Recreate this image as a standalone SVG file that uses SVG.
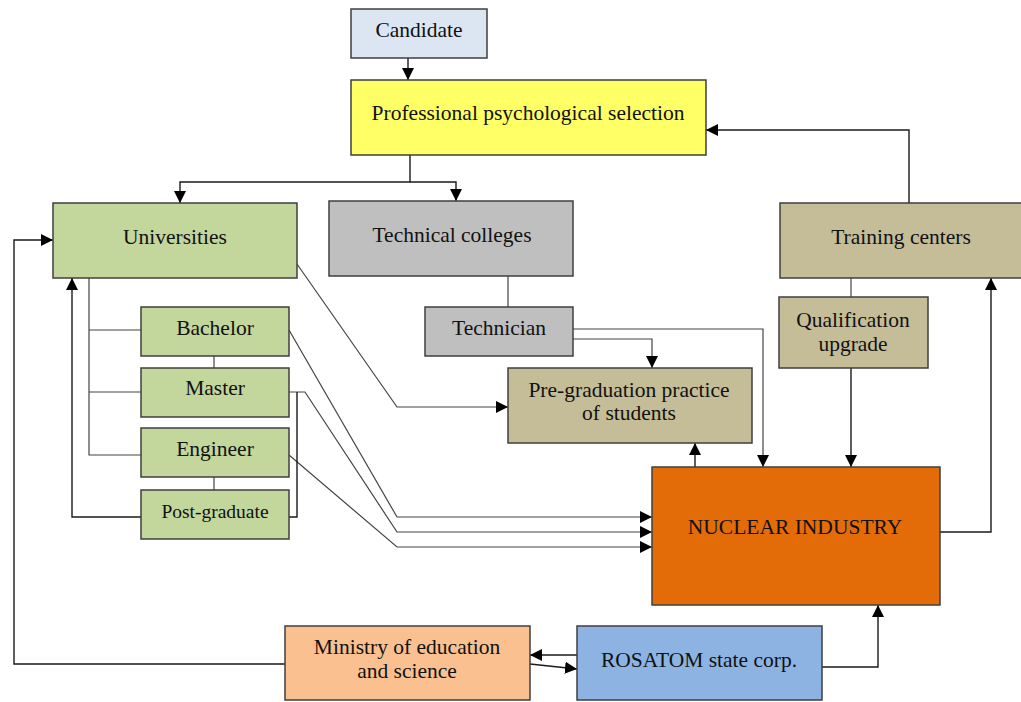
<svg xmlns="http://www.w3.org/2000/svg" width="1021" height="702" viewBox="0 0 1021 702">
<style>
.box{stroke:#3f3f3f;stroke-width:1.5}
.t{font-family:"Liberation Serif","Times New Roman",serif;font-size:21.5px;fill:#111;text-anchor:middle}
.s{font-size:19.5px}
.c{fill:none;stroke:#1a1a1a;stroke-width:1.4}
.g{fill:none;stroke:#444;stroke-width:1.2}
.a{marker-end:url(#ah)}
</style>
<defs>
<marker id="ah" markerUnits="userSpaceOnUse" markerWidth="12" markerHeight="12" viewBox="0 0 12 12" refX="12" refY="6" orient="auto">
<path d="M0,0 L12,6 L0,12 z" fill="#000"/>
</marker>
</defs>
<rect width="1021" height="702" fill="#fff"/>
<g id="connectors">
<path class="c a" d="M408,58 V80"/>
<path class="c a" d="M410,155 V182 H180 V203"/>
<path class="c a" d="M410,182 H456 V201"/>
<path class="c a" d="M909,203 V130 H706"/>
<path class="g" d="M508,276 V307"/>
<path class="g" d="M851,278 V298"/>
<path class="c a" d="M851,368 V467"/>
<path class="c a" d="M940,532 H991 V278"/>
<path class="g a" d="M573,329 H763 V467"/>
<path class="g a" d="M573,339 H652 V368"/>
<path class="c a" d="M695,467 V443"/>
<path class="g a" d="M297,264 L397,407 H508"/>
<path class="g a" d="M289,330 L397,517 H652"/>
<path class="g a" d="M289,392 H305 L397,532 H652"/>
<path class="g a" d="M289,455 L397,547 H652"/>
<path class="c" d="M297,392 V517 H289"/>
<path class="g" d="M89,278 V455 H141 M89,330 H141 M89,392 H141"/>
<path class="g" d="M214,356 V368 M214,477 V490"/>
<path class="c a" d="M141,517 H72 V278"/>
<path class="c a" d="M285,664 H14 V240 H53"/>
<path class="c a" d="M577,655 H530"/>
<path class="c a" d="M530,664 L577,669"/>
<path class="c a" d="M822,667 H878 V605"/>
</g>
<g id="candidate"><rect class="box" x="351" y="9" width="136" height="49" fill="#dce6f2"/><text class="t" x="419" y="37">Candidate</text></g>
<g id="selection"><rect class="box" x="351" y="80" width="355" height="75" fill="#ffff66"/><text class="t" x="528" y="120">Professional psychological selection</text></g>
<g id="universities"><rect class="box" x="53" y="203" width="244" height="75" fill="#c3d69b"/><text class="t" x="175" y="244">Universities</text></g>
<g id="colleges"><rect class="box" x="329" y="201" width="244" height="75" fill="#bfbfbf"/><text class="t" x="452" y="242">Technical colleges</text></g>
<g id="training"><rect class="box" x="780" y="203" width="250" height="75" fill="#c4bd97"/><text class="t" x="901" y="244">Training centers</text></g>
<g id="bachelor"><rect class="box" x="141" y="307" width="148" height="49" fill="#c3d69b"/><text class="t" x="215" y="335">Bachelor</text></g>
<g id="master"><rect class="box" x="141" y="368" width="148" height="49" fill="#c3d69b"/><text class="t" x="215" y="395">Master</text></g>
<g id="engineer"><rect class="box" x="141" y="428" width="148" height="49" fill="#c3d69b"/><text class="t" x="215" y="456">Engineer</text></g>
<g id="postgraduate"><rect class="box" x="141" y="490" width="148" height="49" fill="#c3d69b"/><text class="t s" x="215" y="518">Post-graduate</text></g>
<g id="technician"><rect class="box" x="425" y="307" width="148" height="49" fill="#bfbfbf"/><text class="t" x="499" y="335">Technician</text></g>
<g id="qualification"><rect class="box" x="779" y="297" width="149" height="71" fill="#c4bd97"/><text class="t" x="853" y="327">Qualification</text><text class="t" x="853" y="351">upgrade</text></g>
<g id="practice"><rect class="box" x="508" y="368" width="244" height="75" fill="#c4bd97"/><text class="t" x="629" y="397">Pre-graduation practice</text><text class="t" x="629" y="420">of students</text></g>
<g id="nuclear"><rect class="box" x="652" y="467" width="288" height="138" fill="#e36c09"/><text class="t" x="795" y="534">NUCLEAR INDUSTRY</text></g>
<g id="ministry"><rect class="box" x="285" y="626" width="245" height="74" fill="#fac090"/><text class="t" x="407" y="654">Ministry of education</text><text class="t" x="407" y="678">and science</text></g>
<g id="rosatom"><rect class="box" x="577" y="626" width="245" height="74" fill="#8db3e2"/><text class="t" x="699" y="667">ROSATOM state corp.</text></g>
</svg>
